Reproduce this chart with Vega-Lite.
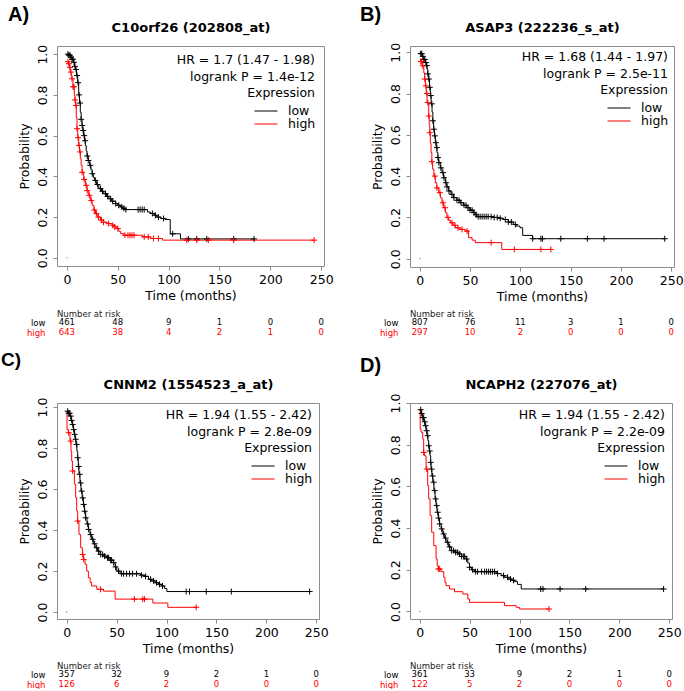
{
  "$schema": "https://vega.github.io/schema/vega-lite/v6.json",
  "background": "white",
  "padding": {"left": 0, "top": 4, "right": 0, "bottom": 0},
  "datasets": {
    "kmA": [
      {"t":0,"s":1.0,"g":"low"},{"t":2,"s":0.995,"g":"low"},{"t":4,"s":0.985,"g":"low"},{"t":5,"s":0.975,"g":"low"},{"t":6.6,"s":0.96,"g":"low"},{"t":7.5,"s":0.94,"g":"low"},{"t":8.3,"s":0.925,"g":"low"},{"t":9.5,"s":0.895,"g":"low"},{"t":10.6,"s":0.86,"g":"low"},{"t":11.6,"s":0.8,"g":"low"},{"t":12.4,"s":0.76,"g":"low"},{"t":13.2,"s":0.715,"g":"low"},{"t":14,"s":0.68,"g":"low"},{"t":14.9,"s":0.65,"g":"low"},{"t":15.7,"s":0.625,"g":"low"},{"t":16.5,"s":0.6,"g":"low"},{"t":17.3,"s":0.575,"g":"low"},{"t":18.2,"s":0.55,"g":"low"},{"t":19,"s":0.525,"g":"low"},{"t":19.8,"s":0.5,"g":"low"},{"t":21,"s":0.478,"g":"low"},{"t":22.5,"s":0.454,"g":"low"},{"t":23.6,"s":0.433,"g":"low"},{"t":24.8,"s":0.413,"g":"low"},{"t":26,"s":0.395,"g":"low"},{"t":27.1,"s":0.38,"g":"low"},{"t":29,"s":0.36,"g":"low"},{"t":31.4,"s":0.34,"g":"low"},{"t":34,"s":0.327,"g":"low"},{"t":36.3,"s":0.315,"g":"low"},{"t":39,"s":0.302,"g":"low"},{"t":41.3,"s":0.29,"g":"low"},{"t":44,"s":0.278,"g":"low"},{"t":47.8,"s":0.266,"g":"low"},{"t":50,"s":0.258,"g":"low"},{"t":52.8,"s":0.25,"g":"low"},{"t":55,"s":0.243,"g":"low"},{"t":57.1,"s":0.237,"g":"low"},{"t":79.2,"s":0.225,"g":"low"},{"t":82,"s":0.218,"g":"low"},{"t":85.8,"s":0.209,"g":"low"},{"t":88.4,"s":0.2,"g":"low"},{"t":92.3,"s":0.193,"g":"low"},{"t":96.6,"s":0.188,"g":"low"},{"t":101.6,"s":0.118,"g":"low"},{"t":111.6,"s":0.093,"g":"low"},{"t":184,"s":0.093,"g":"low"},
      {"t":0,"s":0.963,"g":"high"},{"t":1.6,"s":0.953,"g":"high"},{"t":2.5,"s":0.935,"g":"high"},{"t":3.3,"s":0.912,"g":"high"},{"t":4.1,"s":0.895,"g":"high"},{"t":4.9,"s":0.879,"g":"high"},{"t":6,"s":0.84,"g":"high"},{"t":7.3,"s":0.797,"g":"high"},{"t":8,"s":0.775,"g":"high"},{"t":8.6,"s":0.748,"g":"high"},{"t":9.2,"s":0.69,"g":"high"},{"t":9.9,"s":0.634,"g":"high"},{"t":10.7,"s":0.59,"g":"high"},{"t":11.6,"s":0.552,"g":"high"},{"t":12.4,"s":0.52,"g":"high"},{"t":13.2,"s":0.487,"g":"high"},{"t":14,"s":0.455,"g":"high"},{"t":14.9,"s":0.42,"g":"high"},{"t":16.5,"s":0.385,"g":"high"},{"t":18.2,"s":0.356,"g":"high"},{"t":19.8,"s":0.33,"g":"high"},{"t":21.5,"s":0.307,"g":"high"},{"t":23,"s":0.282,"g":"high"},{"t":24.8,"s":0.258,"g":"high"},{"t":26.5,"s":0.235,"g":"high"},{"t":28.1,"s":0.217,"g":"high"},{"t":30.5,"s":0.2,"g":"high"},{"t":33,"s":0.185,"g":"high"},{"t":36,"s":0.175,"g":"high"},{"t":39.6,"s":0.168,"g":"high"},{"t":44.6,"s":0.16,"g":"high"},{"t":47,"s":0.152,"g":"high"},{"t":49.5,"s":0.144,"g":"high"},{"t":51,"s":0.13,"g":"high"},{"t":52.8,"s":0.119,"g":"high"},{"t":56,"s":0.111,"g":"high"},{"t":74.2,"s":0.103,"g":"high"},{"t":82.4,"s":0.095,"g":"high"},{"t":94,"s":0.087,"g":"high"},{"t":243,"s":0.087,"g":"high"}
    ],
    "cenA": [
      {"t":1,"s":1.0,"g":"low"},{"t":2,"s":0.995,"g":"low"},{"t":3,"s":0.995,"g":"low"},{"t":4,"s":0.985,"g":"low"},{"t":5,"s":0.975,"g":"low"},{"t":6,"s":0.975,"g":"low"},{"t":7,"s":0.96,"g":"low"},{"t":8,"s":0.94,"g":"low"},{"t":9,"s":0.925,"g":"low"},{"t":10,"s":0.895,"g":"low"},{"t":11,"s":0.86,"g":"low"},{"t":12,"s":0.8,"g":"low"},{"t":13,"s":0.76,"g":"low"},{"t":14,"s":0.68,"g":"low"},{"t":15,"s":0.65,"g":"low"},{"t":16,"s":0.625,"g":"low"},{"t":17,"s":0.6,"g":"low"},{"t":18,"s":0.575,"g":"low"},{"t":20,"s":0.5,"g":"low"},{"t":21,"s":0.478,"g":"low"},{"t":23,"s":0.454,"g":"low"},{"t":25,"s":0.413,"g":"low"},{"t":28,"s":0.38,"g":"low"},{"t":30,"s":0.36,"g":"low"},{"t":33,"s":0.34,"g":"low"},{"t":35,"s":0.327,"g":"low"},{"t":38,"s":0.315,"g":"low"},{"t":40,"s":0.302,"g":"low"},{"t":43,"s":0.29,"g":"low"},{"t":45,"s":0.278,"g":"low"},{"t":48,"s":0.266,"g":"low"},{"t":51,"s":0.258,"g":"low"},{"t":54,"s":0.25,"g":"low"},{"t":56,"s":0.243,"g":"low"},{"t":58,"s":0.237,"g":"low"},{"t":70,"s":0.237,"g":"low"},{"t":72,"s":0.237,"g":"low"},{"t":74,"s":0.237,"g":"low"},{"t":76,"s":0.237,"g":"low"},{"t":84,"s":0.218,"g":"low"},{"t":87,"s":0.209,"g":"low"},{"t":90,"s":0.2,"g":"low"},{"t":95,"s":0.193,"g":"low"},{"t":104,"s":0.118,"g":"low"},{"t":119.4,"s":0.093,"g":"low"},{"t":127.6,"s":0.093,"g":"low"},{"t":137.5,"s":0.093,"g":"low"},{"t":163.9,"s":0.093,"g":"low"},{"t":184,"s":0.093,"g":"low"},
      {"t":1,"s":0.963,"g":"high"},{"t":2,"s":0.953,"g":"high"},{"t":3,"s":0.935,"g":"high"},{"t":4,"s":0.912,"g":"high"},{"t":5,"s":0.879,"g":"high"},{"t":6,"s":0.84,"g":"high"},{"t":7,"s":0.84,"g":"high"},{"t":8,"s":0.775,"g":"high"},{"t":9,"s":0.748,"g":"high"},{"t":10,"s":0.634,"g":"high"},{"t":11,"s":0.59,"g":"high"},{"t":12,"s":0.552,"g":"high"},{"t":13,"s":0.52,"g":"high"},{"t":15,"s":0.42,"g":"high"},{"t":17,"s":0.385,"g":"high"},{"t":19,"s":0.356,"g":"high"},{"t":20,"s":0.33,"g":"high"},{"t":22,"s":0.307,"g":"high"},{"t":24,"s":0.282,"g":"high"},{"t":27,"s":0.235,"g":"high"},{"t":29,"s":0.217,"g":"high"},{"t":31,"s":0.2,"g":"high"},{"t":34,"s":0.185,"g":"high"},{"t":36,"s":0.175,"g":"high"},{"t":41,"s":0.168,"g":"high"},{"t":45,"s":0.16,"g":"high"},{"t":47,"s":0.152,"g":"high"},{"t":50,"s":0.144,"g":"high"},{"t":57,"s":0.111,"g":"high"},{"t":60,"s":0.111,"g":"high"},{"t":62,"s":0.111,"g":"high"},{"t":64,"s":0.111,"g":"high"},{"t":66,"s":0.111,"g":"high"},{"t":76,"s":0.103,"g":"high"},{"t":80,"s":0.103,"g":"high"},{"t":85,"s":0.095,"g":"high"},{"t":90,"s":0.095,"g":"high"},{"t":117.8,"s":0.087,"g":"high"},{"t":127.6,"s":0.087,"g":"high"},{"t":139,"s":0.087,"g":"high"},{"t":163.9,"s":0.087,"g":"high"},{"t":243,"s":0.087,"g":"high"}
    ],
    "riskA": [
      {"t":0,"g":"low","n":461},{"t":50,"g":"low","n":48},{"t":100,"g":"low","n":9},{"t":150,"g":"low","n":1},{"t":200,"g":"low","n":0},{"t":250,"g":"low","n":0},
      {"t":0,"g":"high","n":643},{"t":50,"g":"high","n":38},{"t":100,"g":"high","n":4},{"t":150,"g":"high","n":2},{"t":200,"g":"high","n":1},{"t":250,"g":"high","n":0}
    ],
    "kmB": [
      {"t":0,"s":1.0,"g":"low"},{"t":1,"s":0.993,"g":"low"},{"t":2.3,"s":0.98,"g":"low"},{"t":4,"s":0.965,"g":"low"},{"t":5.6,"s":0.95,"g":"low"},{"t":6.4,"s":0.935,"g":"low"},{"t":7.2,"s":0.918,"g":"low"},{"t":8,"s":0.895,"g":"low"},{"t":8.9,"s":0.87,"g":"low"},{"t":9.7,"s":0.83,"g":"low"},{"t":10.5,"s":0.79,"g":"low"},{"t":11.3,"s":0.75,"g":"low"},{"t":12.2,"s":0.71,"g":"low"},{"t":13,"s":0.668,"g":"low"},{"t":13.8,"s":0.627,"g":"low"},{"t":14.6,"s":0.595,"g":"low"},{"t":15.5,"s":0.562,"g":"low"},{"t":16.3,"s":0.538,"g":"low"},{"t":17.1,"s":0.514,"g":"low"},{"t":18,"s":0.49,"g":"low"},{"t":18.8,"s":0.465,"g":"low"},{"t":20.4,"s":0.44,"g":"low"},{"t":22.1,"s":0.417,"g":"low"},{"t":23.7,"s":0.392,"g":"low"},{"t":25.4,"s":0.368,"g":"low"},{"t":27,"s":0.348,"g":"low"},{"t":28.7,"s":0.328,"g":"low"},{"t":31,"s":0.312,"g":"low"},{"t":33.6,"s":0.296,"g":"low"},{"t":37,"s":0.283,"g":"low"},{"t":40.2,"s":0.271,"g":"low"},{"t":43.5,"s":0.259,"g":"low"},{"t":46.8,"s":0.247,"g":"low"},{"t":50,"s":0.235,"g":"low"},{"t":53.4,"s":0.223,"g":"low"},{"t":55,"s":0.213,"g":"low"},{"t":56.7,"s":0.204,"g":"low"},{"t":73,"s":0.2,"g":"low"},{"t":78,"s":0.196,"g":"low"},{"t":83.1,"s":0.19,"g":"low"},{"t":88,"s":0.178,"g":"low"},{"t":93,"s":0.166,"g":"low"},{"t":96,"s":0.158,"g":"low"},{"t":99.6,"s":0.15,"g":"low"},{"t":102.3,"s":0.113,"g":"low"},{"t":112.2,"s":0.097,"g":"low"},{"t":243.5,"s":0.097,"g":"low"},
      {"t":0,"s":0.966,"g":"high"},{"t":1,"s":0.955,"g":"high"},{"t":2.3,"s":0.934,"g":"high"},{"t":4,"s":0.9,"g":"high"},{"t":4.8,"s":0.87,"g":"high"},{"t":5.6,"s":0.837,"g":"high"},{"t":6.4,"s":0.8,"g":"high"},{"t":7.2,"s":0.756,"g":"high"},{"t":8.9,"s":0.691,"g":"high"},{"t":9.4,"s":0.65,"g":"high"},{"t":9.9,"s":0.61,"g":"high"},{"t":10.5,"s":0.56,"g":"high"},{"t":11.2,"s":0.514,"g":"high"},{"t":12,"s":0.47,"g":"high"},{"t":12.8,"s":0.433,"g":"high"},{"t":14,"s":0.4,"g":"high"},{"t":15.5,"s":0.368,"g":"high"},{"t":17,"s":0.343,"g":"high"},{"t":18.8,"s":0.32,"g":"high"},{"t":20.5,"s":0.295,"g":"high"},{"t":22.1,"s":0.271,"g":"high"},{"t":23.7,"s":0.247,"g":"high"},{"t":25.4,"s":0.223,"g":"high"},{"t":27,"s":0.2,"g":"high"},{"t":28.7,"s":0.186,"g":"high"},{"t":30.4,"s":0.174,"g":"high"},{"t":33,"s":0.162,"g":"high"},{"t":35.3,"s":0.15,"g":"high"},{"t":40,"s":0.142,"g":"high"},{"t":45.2,"s":0.134,"g":"high"},{"t":48.5,"s":0.102,"g":"high"},{"t":52,"s":0.09,"g":"high"},{"t":55.1,"s":0.078,"g":"high"},{"t":81.5,"s":0.045,"g":"high"},{"t":130.3,"s":0.045,"g":"high"}
    ],
    "cenB": [
      {"t":1,"s":0.993,"g":"low"},{"t":2,"s":0.993,"g":"low"},{"t":3,"s":0.98,"g":"low"},{"t":4,"s":0.965,"g":"low"},{"t":5,"s":0.965,"g":"low"},{"t":6,"s":0.95,"g":"low"},{"t":7,"s":0.935,"g":"low"},{"t":8,"s":0.895,"g":"low"},{"t":9,"s":0.87,"g":"low"},{"t":10,"s":0.83,"g":"low"},{"t":11,"s":0.79,"g":"low"},{"t":12,"s":0.75,"g":"low"},{"t":13,"s":0.668,"g":"low"},{"t":14,"s":0.627,"g":"low"},{"t":15,"s":0.595,"g":"low"},{"t":16,"s":0.562,"g":"low"},{"t":17,"s":0.538,"g":"low"},{"t":18,"s":0.49,"g":"low"},{"t":19,"s":0.465,"g":"low"},{"t":21,"s":0.44,"g":"low"},{"t":23,"s":0.417,"g":"low"},{"t":24,"s":0.392,"g":"low"},{"t":26,"s":0.368,"g":"low"},{"t":27,"s":0.348,"g":"low"},{"t":29,"s":0.328,"g":"low"},{"t":32,"s":0.312,"g":"low"},{"t":34,"s":0.296,"g":"low"},{"t":37,"s":0.283,"g":"low"},{"t":39,"s":0.283,"g":"low"},{"t":41,"s":0.271,"g":"low"},{"t":44,"s":0.259,"g":"low"},{"t":46,"s":0.259,"g":"low"},{"t":48,"s":0.247,"g":"low"},{"t":50,"s":0.235,"g":"low"},{"t":52,"s":0.235,"g":"low"},{"t":54,"s":0.223,"g":"low"},{"t":56,"s":0.213,"g":"low"},{"t":58,"s":0.204,"g":"low"},{"t":60,"s":0.204,"g":"low"},{"t":62,"s":0.204,"g":"low"},{"t":64,"s":0.204,"g":"low"},{"t":66,"s":0.204,"g":"low"},{"t":68,"s":0.204,"g":"low"},{"t":71,"s":0.204,"g":"low"},{"t":74,"s":0.2,"g":"low"},{"t":77,"s":0.2,"g":"low"},{"t":80,"s":0.196,"g":"low"},{"t":85,"s":0.19,"g":"low"},{"t":88,"s":0.178,"g":"low"},{"t":91,"s":0.178,"g":"low"},{"t":95,"s":0.166,"g":"low"},{"t":112.2,"s":0.097,"g":"low"},{"t":120.4,"s":0.097,"g":"low"},{"t":122,"s":0.097,"g":"low"},{"t":140.2,"s":0.097,"g":"low"},{"t":166.6,"s":0.097,"g":"low"},{"t":183.2,"s":0.097,"g":"low"},{"t":243.5,"s":0.097,"g":"low"},
      {"t":1,"s":0.955,"g":"high"},{"t":2,"s":0.955,"g":"high"},{"t":3,"s":0.934,"g":"high"},{"t":5,"s":0.87,"g":"high"},{"t":6,"s":0.837,"g":"high"},{"t":7,"s":0.8,"g":"high"},{"t":8,"s":0.756,"g":"high"},{"t":9,"s":0.691,"g":"high"},{"t":10,"s":0.61,"g":"high"},{"t":12,"s":0.47,"g":"high"},{"t":15,"s":0.4,"g":"high"},{"t":17,"s":0.343,"g":"high"},{"t":20,"s":0.32,"g":"high"},{"t":23,"s":0.271,"g":"high"},{"t":25,"s":0.247,"g":"high"},{"t":28,"s":0.2,"g":"high"},{"t":32,"s":0.174,"g":"high"},{"t":35,"s":0.162,"g":"high"},{"t":38,"s":0.15,"g":"high"},{"t":42,"s":0.142,"g":"high"},{"t":47,"s":0.134,"g":"high"},{"t":70.9,"s":0.078,"g":"high"},{"t":94,"s":0.045,"g":"high"},{"t":120.4,"s":0.045,"g":"high"},{"t":130.3,"s":0.045,"g":"high"}
    ],
    "riskB": [
      {"t":0,"g":"low","n":807},{"t":50,"g":"low","n":76},{"t":100,"g":"low","n":11},{"t":150,"g":"low","n":3},{"t":200,"g":"low","n":1},{"t":250,"g":"low","n":0},
      {"t":0,"g":"high","n":297},{"t":50,"g":"high","n":10},{"t":100,"g":"high","n":2},{"t":150,"g":"high","n":0},{"t":200,"g":"high","n":0},{"t":250,"g":"high","n":0}
    ],
    "kmC": [
      {"t":0,"s":0.98,"g":"low"},{"t":1.5,"s":0.97,"g":"low"},{"t":3.3,"s":0.956,"g":"low"},{"t":4.5,"s":0.935,"g":"low"},{"t":5.7,"s":0.915,"g":"low"},{"t":6.7,"s":0.89,"g":"low"},{"t":7.7,"s":0.867,"g":"low"},{"t":8.5,"s":0.843,"g":"low"},{"t":9.3,"s":0.818,"g":"low"},{"t":10.2,"s":0.785,"g":"low"},{"t":11,"s":0.753,"g":"low"},{"t":11.6,"s":0.71,"g":"low"},{"t":12.3,"s":0.672,"g":"low"},{"t":13.3,"s":0.63,"g":"low"},{"t":14.3,"s":0.59,"g":"low"},{"t":15.5,"s":0.557,"g":"low"},{"t":16.7,"s":0.525,"g":"low"},{"t":17.8,"s":0.492,"g":"low"},{"t":19,"s":0.46,"g":"low"},{"t":20.3,"s":0.43,"g":"low"},{"t":21.7,"s":0.403,"g":"low"},{"t":23.3,"s":0.378,"g":"low"},{"t":25,"s":0.355,"g":"low"},{"t":26.7,"s":0.333,"g":"low"},{"t":28.4,"s":0.314,"g":"low"},{"t":31,"s":0.297,"g":"low"},{"t":33.4,"s":0.281,"g":"low"},{"t":36.5,"s":0.273,"g":"low"},{"t":40.1,"s":0.265,"g":"low"},{"t":43.5,"s":0.253,"g":"low"},{"t":46.8,"s":0.241,"g":"low"},{"t":48.5,"s":0.22,"g":"low"},{"t":50.1,"s":0.2,"g":"low"},{"t":53.5,"s":0.187,"g":"low"},{"t":74,"s":0.18,"g":"low"},{"t":77.9,"s":0.174,"g":"low"},{"t":81.9,"s":0.16,"g":"low"},{"t":85,"s":0.152,"g":"low"},{"t":88.6,"s":0.143,"g":"low"},{"t":92,"s":0.135,"g":"low"},{"t":95.3,"s":0.127,"g":"low"},{"t":98,"s":0.115,"g":"low"},{"t":100.3,"s":0.1,"g":"low"},{"t":243.3,"s":0.1,"g":"low"},
      {"t":0,"s":0.98,"g":"high"},{"t":0.3,"s":0.891,"g":"high"},{"t":1.6,"s":0.875,"g":"high"},{"t":3.3,"s":0.834,"g":"high"},{"t":4.3,"s":0.785,"g":"high"},{"t":5,"s":0.737,"g":"high"},{"t":5.7,"s":0.688,"g":"high"},{"t":7.7,"s":0.623,"g":"high"},{"t":9,"s":0.558,"g":"high"},{"t":10,"s":0.493,"g":"high"},{"t":11,"s":0.444,"g":"high"},{"t":12.3,"s":0.379,"g":"high"},{"t":14,"s":0.314,"g":"high"},{"t":15.7,"s":0.281,"g":"high"},{"t":17,"s":0.257,"g":"high"},{"t":18.4,"s":0.233,"g":"high"},{"t":20,"s":0.2,"g":"high"},{"t":21.7,"s":0.167,"g":"high"},{"t":23.5,"s":0.145,"g":"high"},{"t":25,"s":0.127,"g":"high"},{"t":30.1,"s":0.111,"g":"high"},{"t":36.8,"s":0.102,"g":"high"},{"t":48.5,"s":0.063,"g":"high"},{"t":86.3,"s":0.044,"g":"high"},{"t":101.3,"s":0.023,"g":"high"},{"t":129.7,"s":0.023,"g":"high"}
    ],
    "cenC": [
      {"t":1,"s":0.98,"g":"low"},{"t":2,"s":0.97,"g":"low"},{"t":3,"s":0.97,"g":"low"},{"t":4,"s":0.956,"g":"low"},{"t":5,"s":0.935,"g":"low"},{"t":6,"s":0.915,"g":"low"},{"t":7,"s":0.89,"g":"low"},{"t":8,"s":0.867,"g":"low"},{"t":9,"s":0.843,"g":"low"},{"t":10,"s":0.818,"g":"low"},{"t":11,"s":0.753,"g":"low"},{"t":12,"s":0.71,"g":"low"},{"t":13,"s":0.672,"g":"low"},{"t":14,"s":0.63,"g":"low"},{"t":15,"s":0.59,"g":"low"},{"t":16,"s":0.557,"g":"low"},{"t":17,"s":0.525,"g":"low"},{"t":18,"s":0.492,"g":"low"},{"t":19,"s":0.46,"g":"low"},{"t":21,"s":0.43,"g":"low"},{"t":22,"s":0.403,"g":"low"},{"t":24,"s":0.378,"g":"low"},{"t":26,"s":0.355,"g":"low"},{"t":28,"s":0.333,"g":"low"},{"t":30,"s":0.314,"g":"low"},{"t":32,"s":0.297,"g":"low"},{"t":34,"s":0.281,"g":"low"},{"t":36,"s":0.281,"g":"low"},{"t":38,"s":0.273,"g":"low"},{"t":41,"s":0.265,"g":"low"},{"t":42,"s":0.265,"g":"low"},{"t":44,"s":0.253,"g":"low"},{"t":45,"s":0.253,"g":"low"},{"t":47,"s":0.241,"g":"low"},{"t":49,"s":0.22,"g":"low"},{"t":52,"s":0.2,"g":"low"},{"t":55,"s":0.187,"g":"low"},{"t":57,"s":0.187,"g":"low"},{"t":60,"s":0.187,"g":"low"},{"t":63,"s":0.187,"g":"low"},{"t":66,"s":0.187,"g":"low"},{"t":70,"s":0.187,"g":"low"},{"t":75,"s":0.18,"g":"low"},{"t":79,"s":0.174,"g":"low"},{"t":84,"s":0.16,"g":"low"},{"t":87,"s":0.152,"g":"low"},{"t":90,"s":0.143,"g":"low"},{"t":93,"s":0.135,"g":"low"},{"t":96,"s":0.127,"g":"low"},{"t":119.7,"s":0.1,"g":"low"},{"t":123,"s":0.1,"g":"low"},{"t":139.8,"s":0.1,"g":"low"},{"t":164.9,"s":0.1,"g":"low"},{"t":243.3,"s":0.1,"g":"low"},
      {"t":2,"s":0.875,"g":"high"},{"t":4,"s":0.834,"g":"high"},{"t":6,"s":0.688,"g":"high"},{"t":11,"s":0.444,"g":"high"},{"t":16,"s":0.281,"g":"high"},{"t":17,"s":0.257,"g":"high"},{"t":34,"s":0.111,"g":"high"},{"t":67.8,"s":0.063,"g":"high"},{"t":76.2,"s":0.063,"g":"high"},{"t":77.9,"s":0.063,"g":"high"},{"t":129.7,"s":0.023,"g":"high"}
    ],
    "riskC": [
      {"t":0,"g":"low","n":357},{"t":50,"g":"low","n":32},{"t":100,"g":"low","n":9},{"t":150,"g":"low","n":2},{"t":200,"g":"low","n":1},{"t":250,"g":"low","n":0},
      {"t":0,"g":"high","n":126},{"t":50,"g":"high","n":6},{"t":100,"g":"high","n":2},{"t":150,"g":"high","n":0},{"t":200,"g":"high","n":0},{"t":250,"g":"high","n":0}
    ],
    "kmD": [
      {"t":0,"s":0.968,"g":"low"},{"t":1.5,"s":0.95,"g":"low"},{"t":3,"s":0.93,"g":"low"},{"t":4.2,"s":0.91,"g":"low"},{"t":5.4,"s":0.891,"g":"low"},{"t":6.4,"s":0.867,"g":"low"},{"t":7.4,"s":0.843,"g":"low"},{"t":8.2,"s":0.82,"g":"low"},{"t":9,"s":0.795,"g":"low"},{"t":9.7,"s":0.77,"g":"low"},{"t":10.4,"s":0.747,"g":"low"},{"t":11,"s":0.715,"g":"low"},{"t":11.4,"s":0.683,"g":"low"},{"t":12.2,"s":0.65,"g":"low"},{"t":13.1,"s":0.62,"g":"low"},{"t":14.2,"s":0.58,"g":"low"},{"t":15.4,"s":0.54,"g":"low"},{"t":16.4,"s":0.508,"g":"low"},{"t":17.4,"s":0.476,"g":"low"},{"t":18.6,"s":0.448,"g":"low"},{"t":19.8,"s":0.42,"g":"low"},{"t":21.5,"s":0.396,"g":"low"},{"t":23.1,"s":0.372,"g":"low"},{"t":24.7,"s":0.352,"g":"low"},{"t":26.4,"s":0.332,"g":"low"},{"t":29,"s":0.31,"g":"low"},{"t":31.5,"s":0.292,"g":"low"},{"t":35,"s":0.284,"g":"low"},{"t":38.2,"s":0.276,"g":"low"},{"t":42,"s":0.264,"g":"low"},{"t":46.5,"s":0.252,"g":"low"},{"t":48.2,"s":0.232,"g":"low"},{"t":49.9,"s":0.212,"g":"low"},{"t":52,"s":0.2,"g":"low"},{"t":54.9,"s":0.191,"g":"low"},{"t":76.7,"s":0.182,"g":"low"},{"t":81.7,"s":0.172,"g":"low"},{"t":85,"s":0.164,"g":"low"},{"t":88.4,"s":0.156,"g":"low"},{"t":92,"s":0.15,"g":"low"},{"t":95,"s":0.143,"g":"low"},{"t":98,"s":0.13,"g":"low"},{"t":101.7,"s":0.108,"g":"low"},{"t":244.3,"s":0.108,"g":"low"},
      {"t":0,"s":0.968,"g":"high"},{"t":0.5,"s":0.875,"g":"high"},{"t":1.3,"s":0.86,"g":"high"},{"t":3,"s":0.827,"g":"high"},{"t":4,"s":0.763,"g":"high"},{"t":4.7,"s":0.747,"g":"high"},{"t":6.4,"s":0.683,"g":"high"},{"t":8,"s":0.603,"g":"high"},{"t":9,"s":0.54,"g":"high"},{"t":10.4,"s":0.46,"g":"high"},{"t":12,"s":0.38,"g":"high"},{"t":14.1,"s":0.316,"g":"high"},{"t":16.4,"s":0.252,"g":"high"},{"t":17.5,"s":0.22,"g":"high"},{"t":18.7,"s":0.204,"g":"high"},{"t":21.4,"s":0.191,"g":"high"},{"t":24.1,"s":0.164,"g":"high"},{"t":25.3,"s":0.14,"g":"high"},{"t":26.4,"s":0.124,"g":"high"},{"t":29.8,"s":0.108,"g":"high"},{"t":34.8,"s":0.095,"g":"high"},{"t":43.2,"s":0.084,"g":"high"},{"t":48.2,"s":0.06,"g":"high"},{"t":49.9,"s":0.044,"g":"high"},{"t":85,"s":0.028,"g":"high"},{"t":96.7,"s":0.02,"g":"high"},{"t":100,"s":0.012,"g":"high"},{"t":129.5,"s":0.012,"g":"high"}
    ],
    "cenD": [
      {"t":1,"s":0.968,"g":"low"},{"t":2,"s":0.95,"g":"low"},{"t":3,"s":0.93,"g":"low"},{"t":4,"s":0.93,"g":"low"},{"t":5,"s":0.91,"g":"low"},{"t":6,"s":0.891,"g":"low"},{"t":7,"s":0.867,"g":"low"},{"t":8,"s":0.843,"g":"low"},{"t":9,"s":0.795,"g":"low"},{"t":10,"s":0.77,"g":"low"},{"t":11,"s":0.715,"g":"low"},{"t":12,"s":0.683,"g":"low"},{"t":13,"s":0.65,"g":"low"},{"t":14,"s":0.62,"g":"low"},{"t":15,"s":0.58,"g":"low"},{"t":16,"s":0.54,"g":"low"},{"t":17,"s":0.508,"g":"low"},{"t":18,"s":0.476,"g":"low"},{"t":19,"s":0.448,"g":"low"},{"t":20,"s":0.42,"g":"low"},{"t":22,"s":0.396,"g":"low"},{"t":24,"s":0.372,"g":"low"},{"t":26,"s":0.352,"g":"low"},{"t":28,"s":0.332,"g":"low"},{"t":30,"s":0.31,"g":"low"},{"t":32,"s":0.292,"g":"low"},{"t":34,"s":0.292,"g":"low"},{"t":36,"s":0.284,"g":"low"},{"t":38,"s":0.284,"g":"low"},{"t":40,"s":0.276,"g":"low"},{"t":42,"s":0.264,"g":"low"},{"t":44,"s":0.264,"g":"low"},{"t":45,"s":0.264,"g":"low"},{"t":47,"s":0.252,"g":"low"},{"t":50,"s":0.212,"g":"low"},{"t":53,"s":0.2,"g":"low"},{"t":56,"s":0.191,"g":"low"},{"t":58,"s":0.191,"g":"low"},{"t":62,"s":0.191,"g":"low"},{"t":65,"s":0.191,"g":"low"},{"t":67,"s":0.191,"g":"low"},{"t":69,"s":0.191,"g":"low"},{"t":71,"s":0.191,"g":"low"},{"t":73,"s":0.191,"g":"low"},{"t":75,"s":0.191,"g":"low"},{"t":78,"s":0.182,"g":"low"},{"t":84,"s":0.172,"g":"low"},{"t":88,"s":0.164,"g":"low"},{"t":91,"s":0.156,"g":"low"},{"t":94,"s":0.15,"g":"low"},{"t":121.2,"s":0.108,"g":"low"},{"t":123.5,"s":0.108,"g":"low"},{"t":140.6,"s":0.108,"g":"low"},{"t":166.3,"s":0.108,"g":"low"},{"t":244.3,"s":0.108,"g":"low"},
      {"t":4,"s":0.763,"g":"high"},{"t":7,"s":0.683,"g":"high"},{"t":18.7,"s":0.204,"g":"high"},{"t":20,"s":0.204,"g":"high"},{"t":129.5,"s":0.012,"g":"high"}
    ],
    "riskD": [
      {"t":0,"g":"low","n":361},{"t":50,"g":"low","n":33},{"t":100,"g":"low","n":9},{"t":150,"g":"low","n":2},{"t":200,"g":"low","n":1},{"t":250,"g":"low","n":0},
      {"t":0,"g":"high","n":122},{"t":50,"g":"high","n":5},{"t":100,"g":"high","n":2},{"t":150,"g":"high","n":0},{"t":200,"g":"high","n":0},{"t":250,"g":"high","n":0}
    ],
    "origin": [{"t":0,"s":0}]
  },
  "concat": [
    {
      "width": 267, "height": 220,
      "title": {"text": "A)", "anchor": "start", "frame": "group", "font": "Liberation Sans", "fontSize": 20, "fontWeight": "bold", "color": "#000000", "baseline": "alphabetic", "offset": 0, "dx": -49, "dy": 19.5},
      "encoding": {"y": {"field": "s", "type": "quantitative", "scale": {"domain": [-0.04, 1.04], "nice": false, "zero": false}, "axis": {"title": "Probability", "values": [0, 0.2, 0.4, 0.6, 0.8, 1], "format": ".1f"}}},
      "layer": [
        {"data": {"name": "kmA"}, "mark": {"type": "line", "interpolate": "step-after", "strokeWidth": 1},
         "encoding": {
           "x": {"field": "t", "type": "quantitative", "scale": {"domain": [-9.72, 252.72], "nice": false, "zero": false}, "axis": {"title": "Time (months)", "values": [0, 50, 100, 150, 200, 250]}},
           "color": {"field": "g", "type": "nominal", "scale": {"domain": ["low", "high"], "range": ["#000000", "#ff0000"]},
             "legend": {"title": ["HR = 1.7 (1.47 - 1.98)", "logrank P = 1.4e-12", "Expression"], "offset": 8}}}},
        {"data": {"name": "cenA"}, "mark": {"type": "point", "shape": "M-1,0H1M0,-1V1", "size": 36, "filled": false, "strokeWidth": 1, "opacity": 1},
         "encoding": {
           "x": {"field": "t", "type": "quantitative", "scale": {"domain": [-9.72, 252.72], "nice": false, "zero": false}, "axis": null},
           "color": {"condition": {"test": "datum.g === 'high'", "value": "#ff0000"}, "value": "#000000"}}},
        {"data": {"name": "origin"}, "mark": {"type": "point", "size": 2, "filled": true, "color": "#888888", "opacity": 1},
         "encoding": {"x": {"field": "t", "type": "quantitative", "scale": {"domain": [-9.72, 252.72], "nice": false, "zero": false}, "axis": {"orient": "top", "title": "C10orf26 (202808_at)", "labels": false, "ticks": false, "domain": false, "titleFontSize": 13, "titleFontWeight": "bold", "titlePadding": 11.5}}}}
      ],
      "resolve": {"axis": {"x": "independent"}}
    },
    {
      "width": 264, "height": 221,
      "title": {"text": "B)", "anchor": "start", "frame": "group", "font": "Liberation Sans", "fontSize": 20, "fontWeight": "bold", "color": "#000000", "baseline": "alphabetic", "offset": 0, "dx": -50, "dy": 19.5},
      "encoding": {"y": {"field": "s", "type": "quantitative", "scale": {"domain": [-0.04, 1.03], "nice": false, "zero": false}, "axis": {"title": "Probability", "values": [0, 0.2, 0.4, 0.6, 0.8, 1], "format": ".1f"}}},
      "layer": [
        {"data": {"name": "kmB"}, "mark": {"type": "line", "interpolate": "step-after", "strokeWidth": 1},
         "encoding": {
           "x": {"field": "t", "type": "quantitative", "scale": {"domain": [-9.72, 252.72], "nice": false, "zero": false}, "axis": {"title": "Time (months)", "values": [0, 50, 100, 150, 200, 250]}},
           "color": {"field": "g", "type": "nominal", "scale": {"domain": ["low", "high"], "range": ["#000000", "#ff0000"]},
             "legend": {"title": ["HR = 1.68 (1.44 - 1.97)", "logrank P = 2.5e-11", "Expression"], "offset": 5}}}},
        {"data": {"name": "cenB"}, "mark": {"type": "point", "shape": "M-1,0H1M0,-1V1", "size": 36, "filled": false, "strokeWidth": 1, "opacity": 1},
         "encoding": {
           "x": {"field": "t", "type": "quantitative", "scale": {"domain": [-9.72, 252.72], "nice": false, "zero": false}, "axis": null},
           "color": {"condition": {"test": "datum.g === 'high'", "value": "#ff0000"}, "value": "#000000"}}},
        {"data": {"name": "origin"}, "mark": {"type": "point", "size": 2, "filled": true, "color": "#888888", "opacity": 1},
         "encoding": {"x": {"field": "t", "type": "quantitative", "scale": {"domain": [-9.72, 252.72], "nice": false, "zero": false}, "axis": {"orient": "top", "title": "ASAP3 (222236_s_at)", "labels": false, "ticks": false, "domain": false, "titleFontSize": 13, "titleFontWeight": "bold", "titlePadding": 11.5}}}}
      ],
      "resolve": {"axis": {"x": "independent"}}
    },
    {
      "width": 267, "height": 136,
      "title": {"text": "Number at risk", "anchor": "start", "frame": "group", "font": "DejaVu Sans", "fontSize": 8.5, "fontWeight": "normal", "baseline": "alphabetic", "offset": 0, "dy": 58, "color": "#222222"},
      "data": {"name": "riskA"},
      "mark": {"type": "text", "fontSize": 8.5},
      "encoding": {
        "x": {"field": "t", "type": "quantitative", "scale": {"domain": [-9.72, 252.72], "nice": false, "zero": false}, "axis": null},
        "y": {"field": "g", "type": "nominal", "scale": {"domain": ["low", "high"], "range": [55, 65], "padding": 0}, "axis": {"title": null, "ticks": false, "domain": false, "labelAngle": 0, "labelAlign": "right", "labelBaseline": "middle", "labelPadding": 12, "labelFontSize": 8.5, "labelColor": {"condition": {"test": "datum.value === 'high'", "value": "#ff0000"}, "value": "#000000"}}},
        "text": {"field": "n", "type": "quantitative"},
        "color": {"condition": {"test": "datum.g === 'high'", "value": "#ff0000"}, "value": "#000000"}
      },
      "view": {"stroke": null}
    },
    {
      "width": 264, "height": 136,
      "title": {"text": "Number at risk", "anchor": "start", "frame": "group", "font": "DejaVu Sans", "fontSize": 8.5, "fontWeight": "normal", "baseline": "alphabetic", "offset": 0, "dy": 58, "color": "#222222"},
      "data": {"name": "riskB"},
      "mark": {"type": "text", "fontSize": 8.5},
      "encoding": {
        "x": {"field": "t", "type": "quantitative", "scale": {"domain": [-9.72, 252.72], "nice": false, "zero": false}, "axis": null},
        "y": {"field": "g", "type": "nominal", "scale": {"domain": ["low", "high"], "range": [55, 65], "padding": 0}, "axis": {"title": null, "ticks": false, "domain": false, "labelAngle": 0, "labelAlign": "right", "labelBaseline": "middle", "labelPadding": 12, "labelFontSize": 8.5, "labelColor": {"condition": {"test": "datum.value === 'high'", "value": "#ff0000"}, "value": "#000000"}}},
        "text": {"field": "n", "type": "quantitative"},
        "color": {"condition": {"test": "datum.g === 'high'", "value": "#ff0000"}, "value": "#000000"}
      },
      "view": {"stroke": null}
    },
    {
      "width": 262, "height": 216,
      "title": {"text": "C)", "anchor": "start", "frame": "group", "font": "Liberation Sans", "fontSize": 19, "fontWeight": "bold", "color": "#000000", "baseline": "alphabetic", "offset": 0, "dx": -56, "dy": 6.5},
      "encoding": {"y": {"field": "s", "type": "quantitative", "scale": {"domain": [-0.034, 1.02], "nice": false, "zero": false}, "axis": {"title": "Probability", "values": [0, 0.2, 0.4, 0.6, 0.8, 1], "format": ".1f"}}},
      "layer": [
        {"data": {"name": "kmC"}, "mark": {"type": "line", "interpolate": "step-after", "strokeWidth": 1},
         "encoding": {
           "x": {"field": "t", "type": "quantitative", "scale": {"domain": [-9.72, 252.72], "nice": false, "zero": false}, "axis": {"title": "Time (months)", "values": [0, 50, 100, 150, 200, 250]}},
           "color": {"field": "g", "type": "nominal", "scale": {"domain": ["low", "high"], "range": ["#000000", "#ff0000"]},
             "legend": {"title": ["HR = 1.94 (1.55 - 2.42)", "logrank P = 2.8e-09", "Expression"], "offset": 6}}}},
        {"data": {"name": "cenC"}, "mark": {"type": "point", "shape": "M-1,0H1M0,-1V1", "size": 36, "filled": false, "strokeWidth": 1, "opacity": 1},
         "encoding": {
           "x": {"field": "t", "type": "quantitative", "scale": {"domain": [-9.72, 252.72], "nice": false, "zero": false}, "axis": null},
           "color": {"condition": {"test": "datum.g === 'high'", "value": "#ff0000"}, "value": "#000000"}}},
        {"data": {"name": "origin"}, "mark": {"type": "point", "size": 2, "filled": true, "color": "#888888", "opacity": 1},
         "encoding": {"x": {"field": "t", "type": "quantitative", "scale": {"domain": [-9.72, 252.72], "nice": false, "zero": false}, "axis": {"orient": "top", "title": "CNNM2 (1554523_a_at)", "labels": false, "ticks": false, "domain": false, "titleFontSize": 13, "titleFontWeight": "bold", "titlePadding": 11.5}}}}
      ],
      "resolve": {"axis": {"x": "independent"}}
    },
    {
      "width": 262, "height": 216,
      "title": {"text": "D)", "anchor": "start", "frame": "group", "font": "Liberation Sans", "fontSize": 20, "fontWeight": "bold", "color": "#000000", "baseline": "alphabetic", "offset": 0, "dx": -50, "dy": 13.5},
      "encoding": {"y": {"field": "s", "type": "quantitative", "scale": {"domain": [-0.036, 1.0], "nice": false, "zero": false}, "axis": {"title": "Probability", "values": [0, 0.2, 0.4, 0.6, 0.8, 1], "format": ".1f"}}},
      "layer": [
        {"data": {"name": "kmD"}, "mark": {"type": "line", "interpolate": "step-after", "strokeWidth": 1},
         "encoding": {
           "x": {"field": "t", "type": "quantitative", "scale": {"domain": [-9.72, 252.72], "nice": false, "zero": false}, "axis": {"title": "Time (months)", "values": [0, 50, 100, 150, 200, 250]}},
           "color": {"field": "g", "type": "nominal", "scale": {"domain": ["low", "high"], "range": ["#000000", "#ff0000"]},
             "legend": {"title": ["HR = 1.94 (1.55 - 2.42)", "logrank P = 2.2e-09", "Expression"], "offset": 6}}}},
        {"data": {"name": "cenD"}, "mark": {"type": "point", "shape": "M-1,0H1M0,-1V1", "size": 36, "filled": false, "strokeWidth": 1, "opacity": 1},
         "encoding": {
           "x": {"field": "t", "type": "quantitative", "scale": {"domain": [-9.72, 252.72], "nice": false, "zero": false}, "axis": null},
           "color": {"condition": {"test": "datum.g === 'high'", "value": "#ff0000"}, "value": "#000000"}}},
        {"data": {"name": "origin"}, "mark": {"type": "point", "size": 2, "filled": true, "color": "#888888", "opacity": 1},
         "encoding": {"x": {"field": "t", "type": "quantitative", "scale": {"domain": [-9.72, 252.72], "nice": false, "zero": false}, "axis": {"orient": "top", "title": "NCAPH2 (227076_at)", "labels": false, "ticks": false, "domain": false, "titleFontSize": 13, "titleFontWeight": "bold", "titlePadding": 11.5}}}}
      ],
      "resolve": {"axis": {"x": "independent"}}
    },
    {
      "width": 262, "height": 70,
      "title": {"text": "Number at risk", "anchor": "start", "frame": "group", "font": "DejaVu Sans", "fontSize": 8.5, "fontWeight": "normal", "baseline": "alphabetic", "offset": 0, "dy": 58, "color": "#222222"},
      "data": {"name": "riskC"},
      "mark": {"type": "text", "fontSize": 8.5},
      "encoding": {
        "x": {"field": "t", "type": "quantitative", "scale": {"domain": [-9.72, 252.72], "nice": false, "zero": false}, "axis": null},
        "y": {"field": "g", "type": "nominal", "scale": {"domain": ["low", "high"], "range": [55, 65], "padding": 0}, "axis": {"title": null, "ticks": false, "domain": false, "labelAngle": 0, "labelAlign": "right", "labelBaseline": "middle", "labelPadding": 12, "labelFontSize": 8.5, "labelColor": {"condition": {"test": "datum.value === 'high'", "value": "#ff0000"}, "value": "#000000"}}},
        "text": {"field": "n", "type": "quantitative"},
        "color": {"condition": {"test": "datum.g === 'high'", "value": "#ff0000"}, "value": "#000000"}
      },
      "view": {"stroke": null}
    },
    {
      "width": 262, "height": 70,
      "title": {"text": "Number at risk", "anchor": "start", "frame": "group", "font": "DejaVu Sans", "fontSize": 8.5, "fontWeight": "normal", "baseline": "alphabetic", "offset": 0, "dy": 58, "color": "#222222"},
      "data": {"name": "riskD"},
      "mark": {"type": "text", "fontSize": 8.5},
      "encoding": {
        "x": {"field": "t", "type": "quantitative", "scale": {"domain": [-9.72, 252.72], "nice": false, "zero": false}, "axis": null},
        "y": {"field": "g", "type": "nominal", "scale": {"domain": ["low", "high"], "range": [55, 65], "padding": 0}, "axis": {"title": null, "ticks": false, "domain": false, "labelAngle": 0, "labelAlign": "right", "labelBaseline": "middle", "labelPadding": 12, "labelFontSize": 8.5, "labelColor": {"condition": {"test": "datum.value === 'high'", "value": "#ff0000"}, "value": "#000000"}}},
        "text": {"field": "n", "type": "quantitative"},
        "color": {"condition": {"test": "datum.g === 'high'", "value": "#ff0000"}, "value": "#000000"}
      },
      "view": {"stroke": null}
    }
  ],
  "columns": 2,
  "spacing": {"row": 0, "column": 86},
  "bounds": "flush",
  "resolve": {"scale": {"color": "independent"}},
  "config": {
    "font": "DejaVu Sans",
    "view": {"stroke": "#8c8c8c", "strokeWidth": 1},
    "axis": {"grid": false, "domain": false, "tickColor": "#8c8c8c", "tickSize": 4, "tickWidth": 1, "labelFont": "DejaVu Sans", "labelFontSize": 12.5, "labelColor": "#000000", "titleFont": "DejaVu Sans", "titleFontSize": 12.5, "titleFontWeight": "normal", "titleColor": "#000000", "labelFlush": false, "labelOverlap": false},
    "axisX": {"labelPadding": 3, "titlePadding": 4},
    "axisY": {"labelAngle": 270, "labelAlign": "center", "labelBaseline": "bottom", "labelPadding": 4, "titlePadding": 5},
    "title": {"font": "DejaVu Sans", "fontSize": 13, "fontWeight": "bold", "color": "#000000"},
    "legend": {"orient": "top-right", "padding": 0, "titleFont": "DejaVu Sans", "titleFontSize": 12.5, "titleFontWeight": "normal", "titleColor": "#000000", "titleAlign": "right", "titleAnchor": "end", "titleLineHeight": 16.5, "titlePadding": 5, "titleLimit": 400, "labelFont": "DejaVu Sans", "labelFontSize": 12.5, "labelColor": "#000000", "labelOffset": 80, "labelExpr": "datum.label + ' '", "symbolType": "M5.087,0H7.087", "symbolSize": 529, "symbolStrokeWidth": 1, "clipHeight": 13, "rowPadding": 0}
  }
}
